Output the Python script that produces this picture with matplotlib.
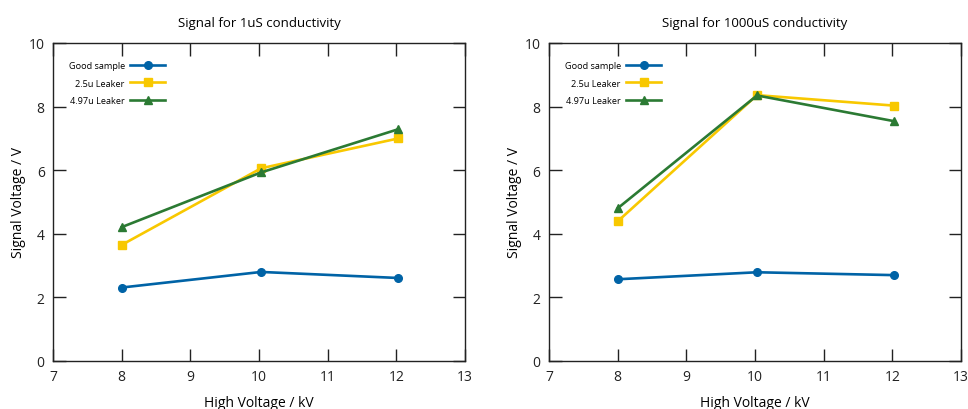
import numpy as np
import matplotlib.pyplot as plt

# === Data ===
hv = [8, 10.03, 12.03]
labels = ['Good sample', '2.5u Leaker', '4.97u Leaker']

good_1us = [2.31, 2.80, 2.61]
leak25_1us = [3.65, 6.06, 7.00]
leak497_1us = [4.21, 5.93, 7.29]

good_1000us = [2.57, 2.79, 2.70]
leak25_1000us = [4.39, 8.36, 8.03]
leak497_1000us = [4.80, 8.35, 7.54]

titles = ['Signal for 1uS conductivity', 'Signal for 1000uS conductivity']
colors = ['#0063a6', '#f8c800', '#2b7a33']
markers = ['o', 's', '^']

plt.rcParams['font.family'] = ['Open Sans', 'DejaVu Sans']


def draw_panel(ax, series, title):
    for vals, lab, c, m in zip(series, labels, colors, markers):
        ax.plot(hv, vals, color=c, marker=m, markersize=5.5, linewidth=1.9, label=lab)
    ax.set_xlim(7, 13)
    ax.set_ylim(0, 10)
    ax.set_xticks(range(7, 14))
    ax.set_yticks(range(0, 11, 2))
    ax.tick_params(direction='in', length=9, width=1, top=True, right=True,
                   labelsize=10, pad=6, colors='#222222')
    for s in ax.spines.values():
        s.set_linewidth(1)
        s.set_color('#222222')
    ax.set_title(title, fontsize=9.5, pad=12)
    ax.set_xlabel('High Voltage / kV', fontsize=10, labelpad=8)
    ax.set_ylabel('Signal Voltage / V', fontsize=10, labelpad=2)
    ax.legend(loc='upper left', bbox_to_anchor=(0.02, 0.965), frameon=False,
              markerfirst=False, fontsize=6.6, handlelength=3.8,
              labelspacing=0.9, handletextpad=0.6, borderaxespad=0.4)


fig = plt.figure(figsize=(9.68, 4.10), dpi=100)
ax1 = fig.add_axes([0.0548, 0.1171, 0.4256, 0.7756])
ax2 = fig.add_axes([0.5671, 0.1171, 0.4256, 0.7756])

draw_panel(ax1, [good_1us, leak25_1us, leak497_1us], titles[0])
draw_panel(ax2, [good_1000us, leak25_1000us, leak497_1000us], titles[1])

fig.savefig('out.png', dpi=100)
